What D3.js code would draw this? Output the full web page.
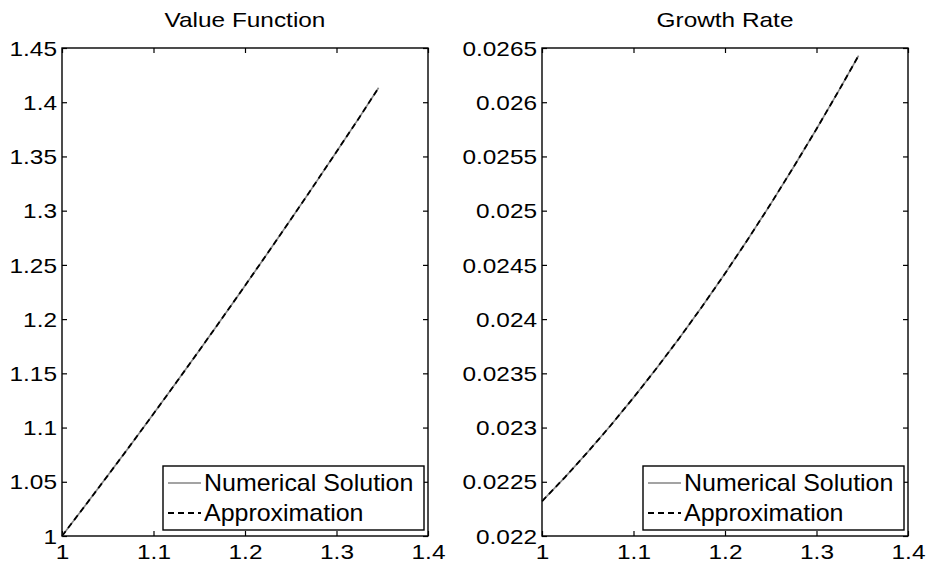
<!DOCTYPE html>
<html>
<head>
<meta charset="utf-8">
<script src="https://cdn.jsdelivr.net/npm/d3@7"></script>
<style>
body { margin: 0; background: #ffffff; }
text { font-family: "Liberation Sans", Arial, Helvetica, sans-serif; fill: #000000; }
</style>
</head>
<body>
<div id="canvas"></div>
<script>
// ----------------------------------------------------------
// DATA -----------------------------------------------------
// ----------------------------------------------------------
var capital = [1.000, 1.025, 1.050, 1.075, 1.100, 1.125, 1.150, 1.175, 1.200, 1.225, 1.250, 1.275, 1.300, 1.325, 1.346];
// value function
var value_numerical = [1.0000, 1.0277, 1.0557, 1.0840, 1.1127, 1.1417, 1.1711, 1.2008, 1.2308, 1.2612, 1.2919, 1.3229, 1.3543, 1.3860, 1.4133];
var value_approx    = [1.0000, 1.0277, 1.0557, 1.0840, 1.1127, 1.1417, 1.1711, 1.2008, 1.2308, 1.2612, 1.2919, 1.3229, 1.3543, 1.3860, 1.4133];
// growth rate
var growth_numerical = [0.022320, 0.022541, 0.022774, 0.023019, 0.023276, 0.023544, 0.023824, 0.024116, 0.024420, 0.024736, 0.025063, 0.025403, 0.025753, 0.026116, 0.026430];
var growth_approx    = [0.022320, 0.022541, 0.022774, 0.023019, 0.023276, 0.023544, 0.023824, 0.024116, 0.024420, 0.024736, 0.025063, 0.025403, 0.025753, 0.026116, 0.026430];
// ticks
var x_ticks = [1, 1.1, 1.2, 1.3, 1.4];
var value_ticks = [1, 1.05, 1.1, 1.15, 1.2, 1.25, 1.3, 1.35, 1.4, 1.45];
var growth_ticks = [0.022, 0.0225, 0.023, 0.0235, 0.024, 0.0245, 0.025, 0.0255, 0.026, 0.0265];
// labels
var panel_titles = ["Value Function", "Growth Rate"];
var legend_labels = ["Numerical Solution", "Approximation"];

// ----------------------------------------------------------
// SETTINGS -------------------------------------------------
// ----------------------------------------------------------
var width = 930, height = 574;
var plot_top = 48, plot_bottom = 536;
var panel_left = [62, 542];
var plot_width = 366;
var stretch = 1.22;          // text in the picture is wider than normal
var tick_size = 5;
var color_numerical = "#858585";
var color_approx = "#000000";

var svg = d3.select("#canvas").append("svg")
  .attr("width", width)
  .attr("height", height)
  .style("background-color", "#ffffff");

// ----------------------------------------------------------
// PANEL ----------------------------------------------------
// ----------------------------------------------------------
function drawPanel(left, title, yDomain, yTicks, numerical, approx) {
  var g = svg.append("g").attr("transform", "translate(" + left + ",0)");

  var xScale = d3.scaleLinear().domain([1, 1.4]).range([0, plot_width]);
  var yScale = d3.scaleLinear().domain(yDomain).range([plot_bottom, plot_top]);
  var fmt = d3.format("~g");

  // box
  g.append("rect")
    .attr("x", 0).attr("y", plot_top)
    .attr("width", plot_width).attr("height", plot_bottom - plot_top)
    .attr("fill", "none").attr("stroke", "#000").attr("stroke-width", 1.4);

  // left axis with labels
  g.append("g")
    .call(d3.axisLeft(yScale).tickValues(yTicks).tickSizeInner(-tick_size).tickSizeOuter(0).tickFormat(fmt))
    .call(function(a) {
      a.select(".domain").remove();
      a.selectAll(".tick line").attr("stroke-width", 1.2);
      a.selectAll("text")
        .attr("x", -5 / stretch)
        .attr("dy", "0.36em")
        .attr("transform", "scale(" + stretch + ",1)")
        .style("font-size", "20px");
    });
  // right axis ticks
  g.append("g")
    .attr("transform", "translate(" + plot_width + ",0)")
    .call(d3.axisRight(yScale).tickValues(yTicks).tickSizeInner(-tick_size).tickSizeOuter(0).tickFormat(""))
    .call(function(a) { a.select(".domain").remove(); a.selectAll(".tick line").attr("stroke-width", 1.2); });
  // bottom axis with labels
  g.append("g")
    .attr("transform", "translate(0," + plot_bottom + ")")
    .call(d3.axisBottom(xScale).tickValues(x_ticks).tickSizeInner(-tick_size).tickSizeOuter(0).tickPadding(9).tickFormat(fmt))
    .call(function(a) {
      a.select(".domain").remove();
      a.selectAll(".tick line").attr("stroke-width", 1.2);
      a.selectAll("text")
        .attr("transform", "scale(" + stretch + ",1)")
        .style("font-size", "20px");
    });
  // top axis ticks
  g.append("g")
    .attr("transform", "translate(0," + plot_top + ")")
    .call(d3.axisTop(xScale).tickValues(x_ticks).tickSizeInner(-tick_size).tickSizeOuter(0).tickFormat(""))
    .call(function(a) { a.select(".domain").remove(); a.selectAll(".tick line").attr("stroke-width", 1.2); });

  // lines
  var line_num = d3.line().x(function(d, i) { return xScale(capital[i]); }).y(function(d) { return yScale(d); });
  g.append("path")
    .datum(numerical)
    .attr("d", line_num)
    .attr("fill", "none")
    .attr("stroke", color_numerical)
    .attr("stroke-width", 1.6);
  g.append("path")
    .datum(approx)
    .attr("d", line_num)
    .attr("fill", "none")
    .attr("stroke", color_approx)
    .attr("stroke-width", 1.8)
    .attr("stroke-dasharray", "6,4");

  // title
  g.append("text")
    .attr("transform", "translate(" + (plot_width / 2) + ",27) scale(" + stretch + ",1)")
    .attr("text-anchor", "middle")
    .style("font-size", "20px")
    .text(title);

  // legend
  var lx = plot_width - 265, ly = 466;
  var legend = g.append("g").attr("transform", "translate(" + lx + "," + ly + ")");
  legend.append("rect")
    .attr("width", 261).attr("height", 64)
    .attr("fill", "#ffffff").attr("stroke", "#000").attr("stroke-width", 1.4);
  var rows = [
    { label: legend_labels[0], color: color_numerical, dash: null, w: 1.6 },
    { label: legend_labels[1], color: color_approx, dash: "6,4", w: 1.8 }
  ];
  rows.forEach(function(r, i) {
    var yy = 17 + i * 30;
    legend.append("line")
      .attr("x1", 5).attr("x2", 38).attr("y1", yy).attr("y2", yy)
      .attr("stroke", r.color).attr("stroke-width", r.w)
      .attr("stroke-dasharray", r.dash);
    legend.append("text")
      .attr("transform", "translate(41," + (yy + 8) + ") scale(1.04,1)")
      .style("font-size", "24px")
      .text(r.label);
  });
}

drawPanel(panel_left[0], panel_titles[0], [1, 1.45], value_ticks, value_numerical, value_approx);
drawPanel(panel_left[1], panel_titles[1], [0.022, 0.0265], growth_ticks, growth_numerical, growth_approx);
</script>
</body>
</html>
